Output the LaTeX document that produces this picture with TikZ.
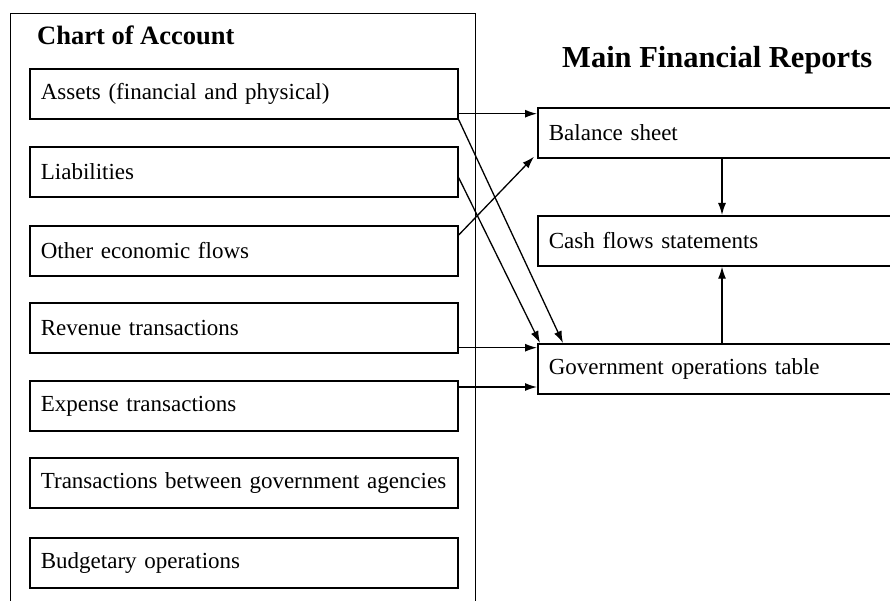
\documentclass[tikz,border=0pt]{standalone}
\usepackage{fontspec}
\setmainfont{Liberation Serif}
\usetikzlibrary{arrows.meta,calc}
\begin{document}
\begin{tikzpicture}[x=1pt,y=-1pt,
  lbox/.style={draw, line width=1.7pt, anchor=north west, minimum width=428pt, minimum height=50pt, text width=406pt, inner xsep=11pt, align=left, font=\fontsize{23}{24}\selectfont},
  rbox/.style={draw, line width=1.7pt, anchor=north west, minimum width=370pt, minimum height=50pt, text width=348pt, inner xsep=11pt, align=left, font=\fontsize{23}{24}\selectfont},
  arr/.style={line width=1.3pt, -{Latex[length=12pt,width=8pt]}},
  ttl/.style={font=\bfseries\fontsize{26.5}{28}\selectfont, anchor=west, inner sep=0pt}]
\useasboundingbox (0,0) rectangle (890,601);
\fill[white] (0,0) rectangle (890,601);
\node[draw, line width=1.3pt, anchor=north west, minimum width=465pt, minimum height=620pt, inner sep=0pt] (outer) at (10,13) {};
\node[ttl] (t1) at (37,35) {Chart of Account};
\node[ttl, font=\bfseries\fontsize{30.5}{32}\selectfont] (t2) at (562,60) {Main Financial Reports};
\node[lbox] (assets) at (29,68) {Assets (financial and physical)};
\node[lbox] (liab) at (29,146) {Liabilities};
\node[lbox] (other) at (29,225) {Other economic flows};
\node[lbox] (rev) at (29,302) {Revenue transactions};
\node[lbox] (exp) at (29,380) {Expense transactions};
\node[lbox] (trans) at (29,457) {Transactions between government agencies};
\node[lbox] (budg) at (29,537) {Budgetary operations};
\node[rbox] (bal) at (537,107) {Balance sheet};
\node[rbox] (cash) at (537,215) {Cash flows statements};
\node[rbox] (gov) at (537,343) {Government operations table};
\coordinate (a1) at ([yshift=6pt]assets.south east);
\coordinate (r1) at ([yshift=6pt]rev.south east);
\coordinate (e1) at ([yshift=-7pt]exp.north east);
\draw[arr] (a1) -- (a1 -| bal.west);
\draw[arr] (assets.south east) -- ([xshift=26pt]gov.north west);
\draw[arr] ([yshift=20pt]liab.south east) -- ([xshift=3pt]gov.north west);
\draw[arr] ([yshift=-10pt]other.north east) -- ([xshift=-3pt,yshift=2pt]bal.south west);
\draw[arr] (r1) -- (r1 -| gov.west);
\draw[arr] (e1) -- (e1 -| gov.west);
\draw[arr] (bal.south -| 722,0) -- (cash.north -| 722,0);
\draw[arr] (gov.north -| 722,0) -- (cash.south -| 722,0);
\end{tikzpicture}
\end{document}
